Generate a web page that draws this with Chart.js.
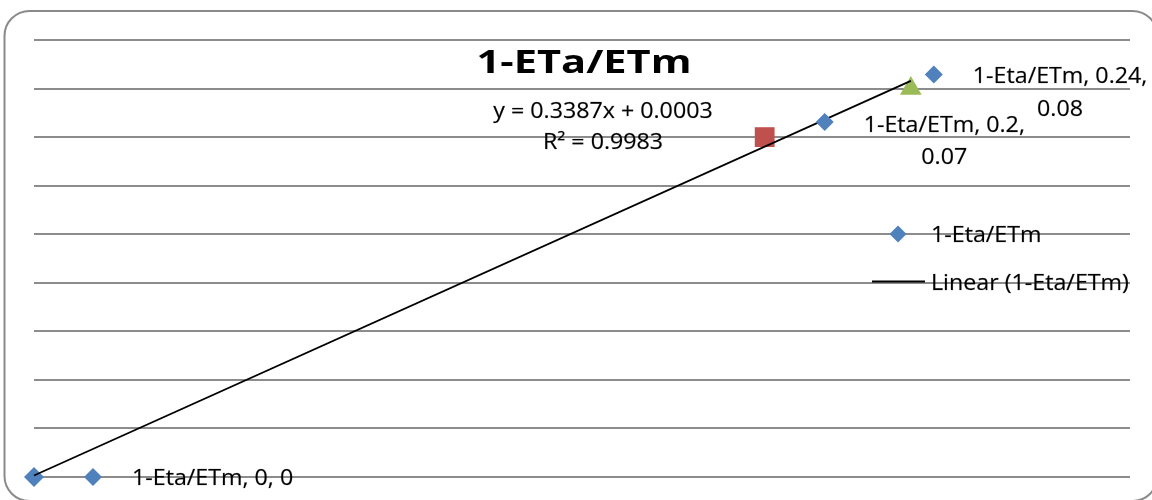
<!DOCTYPE html>
<html>
<head>
<meta charset="utf-8">
<script src="https://cdn.jsdelivr.net/npm/chart.js@4.4.0/dist/chart.umd.min.js"></script>
<style>
  html, body { margin: 0; padding: 0; background: #ffffff; }
  #wrap { width: 1152px; height: 500px; position: relative; }
</style>
</head>
<body>
<div id="wrap"><canvas id="c" width="1152" height="500"></canvas></div>
<script>
// Series values
const seriesName = '1-Eta/ETm';
const xValues = [0, 0.2, 0.24];
const yValues = [0, 0.07, 0.08];
const pointColors = ['#4F81BD', '#C0504D', '#9BBB59'];
const pointShapes = ['rectRot', 'rect', 'triangle'];
const pointRadii = [10, 14, 12.5];

// Linear trendline coefficients
const trendSlope = 0.3387;
const trendIntercept = 0.0003;
const rSquared = 0.9983;

// Axis ranges
const xRange = [0, 0.3];
const yRange = [0, 0.09];
const yStep = 0.01;

// Text
const chartTitle = '1-ETa/ETm';
const legendLabels = ['1-Eta/ETm', 'Linear (1-Eta/ETm)'];

const FONT = "'Open Sans', 'DejaVu Sans', sans-serif";
const BODY_SIZE = 21.5;
const BODY_SX = 1.08;
const TITLE_SIZE = 33;
const TITLE_SX = 1.26;
const CAP = 0.714;

function fmt(v) { return String(v); }

// Draw horizontally widened text; y is the vertical centre of the capitals
function drawText(ctx, text, x, y, align, size, sx, bold) {
  ctx.save();
  ctx.font = (bold ? 'bold ' : '') + size + 'px ' + FONT;
  ctx.fillStyle = '#000000';
  ctx.textBaseline = 'alphabetic';
  const w = ctx.measureText(text).width * sx;
  let left = x;
  if (align === 'center') left = x - w / 2;
  else if (align === 'right') left = x - w;
  ctx.translate(left, y + size * CAP / 2);
  ctx.scale(sx, 1);
  ctx.textAlign = 'left';
  ctx.fillText(text, 0, 0);
  if (!bold) {
    // slightly heavier strokes for the regular text
    ctx.strokeStyle = 'rgba(0,0,0,0.35)';
    ctx.lineWidth = 0.5;
    ctx.strokeText(text, 0, 0);
  }
  ctx.restore();
  return w;
}

function diamond(ctx, x, y, r, color) {
  ctx.save();
  ctx.fillStyle = color;
  ctx.beginPath();
  ctx.moveTo(x, y - r);
  ctx.lineTo(x + r, y);
  ctx.lineTo(x, y + r);
  ctx.lineTo(x - r, y);
  ctx.closePath();
  ctx.fill();
  ctx.restore();
}

// Label layout for each point: legend-key offset from the point, line split
const labelLayout = [
  { key: [59, 0], lines: 1, line1Dy: 0, line2Dy: 0 },
  { key: [60, -15], lines: 2, line1Dy: 2, line2Dy: 34 },
  { key: [23, -14], lines: 2, line1Dy: 1, line2Dy: 34 }
];

const overlayPlugin = {
  id: 'overlay',
  beforeDraw(chart) {
    const ctx = chart.ctx;
    ctx.save();
    ctx.fillStyle = '#ffffff';
    ctx.fillRect(0, 0, chart.width, chart.height);
    // rounded chart frame
    ctx.strokeStyle = '#8a8a8a';
    ctx.lineWidth = 2;
    ctx.beginPath();
    ctx.roundRect(4.5, 11, 1153, 490, 25);
    ctx.stroke();
    ctx.restore();
  },
  afterDatasetsDraw(chart) {
    const ctx = chart.ctx;
    const xs = chart.scales.x, ys = chart.scales.y;

    // title
    drawText(ctx, chartTitle, 584, 61, 'center', TITLE_SIZE, TITLE_SX, true);

    // trendline equation
    const eq = 'y = ' + trendSlope.toFixed(4) + 'x + ' + trendIntercept.toFixed(4);
    drawText(ctx, eq, 603, 110, 'center', BODY_SIZE, BODY_SX, false);
    drawText(ctx, 'R\u00B2 = ' + rSquared.toFixed(4), 603, 141, 'center', BODY_SIZE, BODY_SX, false);

    // data labels with legend keys
    xValues.forEach((xv, i) => {
      const px = xs.getPixelForValue(xv);
      const py = ys.getPixelForValue(yValues[i]);
      const L = labelLayout[i];
      const kx = px + L.key[0], ky = py + L.key[1];
      diamond(ctx, kx, ky, 9, pointColors[0]);
      const left = kx + 39;
      if (L.lines === 1) {
        drawText(ctx, seriesName + ', ' + fmt(xv) + ', ' + fmt(yValues[i]), left, ky + L.line1Dy, 'left', BODY_SIZE, BODY_SX, false);
      } else {
        const w = drawText(ctx, seriesName + ', ' + fmt(xv) + ',', left, ky + L.line1Dy, 'left', BODY_SIZE, BODY_SX, false);
        drawText(ctx, fmt(yValues[i]), left + w / 2, ky + L.line2Dy, 'center', BODY_SIZE, BODY_SX, false);
      }
    });

    // legend inside plot area
    const lx = 931;
    diamond(ctx, 898, 234, 8.5, pointColors[0]);
    drawText(ctx, legendLabels[0], lx, 234, 'left', BODY_SIZE, BODY_SX, false);
    ctx.save();
    ctx.strokeStyle = '#000000';
    ctx.lineWidth = 2;
    ctx.beginPath();
    ctx.moveTo(872, 281.5);
    ctx.lineTo(925, 281.5);
    ctx.stroke();
    ctx.restore();
    drawText(ctx, legendLabels[1], lx, 282, 'left', BODY_SIZE, BODY_SX, false);
  }
};

const xEnd = Math.max(...xValues);
const points = xValues.map((x, i) => ({ x: x, y: yValues[i] }));
const trend = [
  { x: 0, y: trendIntercept },
  { x: xEnd, y: trendSlope * xEnd + trendIntercept }
];

new Chart(document.getElementById('c'), {
  type: 'scatter',
  data: {
    datasets: [
      {
        type: 'line',
        label: legendLabels[1],
        data: trend,
        borderColor: '#000000',
        borderWidth: 1.8,
        pointRadius: 0,
        fill: false,
        clip: false,
        order: 0
      },
      {
        label: legendLabels[0],
        data: points,
        pointStyle: pointShapes,
        pointRadius: pointRadii,
        pointBackgroundColor: pointColors,
        pointBorderWidth: 0,
        pointBorderColor: pointColors,
        showLine: false,
        clip: false,
        order: 1
      }
    ]
  },
  plugins: [overlayPlugin],
  options: {
    responsive: false,
    animation: false,
    devicePixelRatio: 1,
    layout: { padding: { left: 34, top: 40, right: 22, bottom: 23 } },
    plugins: {
      legend: { display: false },
      title: { display: false },
      tooltip: { enabled: false }
    },
    scales: {
      x: {
        type: 'linear',
        min: xRange[0],
        max: xRange[1],
        display: false
      },
      y: {
        type: 'linear',
        min: yRange[0],
        max: yRange[1],
        ticks: { display: false, stepSize: yStep },
        border: { display: false },
        grid: { color: '#8c8c8c', lineWidth: 2, drawTicks: false, tickLength: 0 }
      }
    }
  }
});
</script>
</body>
</html>
